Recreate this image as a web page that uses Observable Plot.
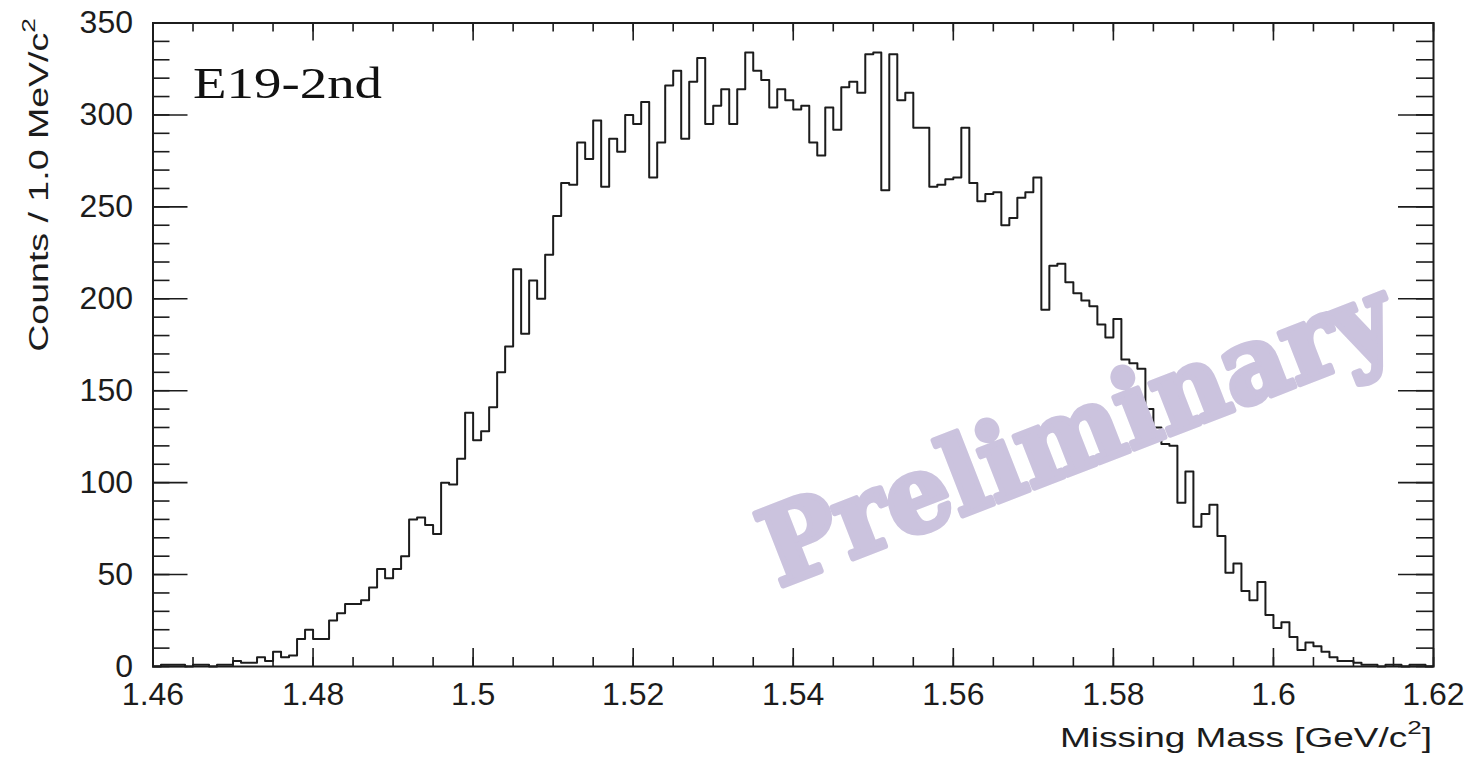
<!DOCTYPE html>
<html>
<head>
<meta charset="utf-8">
<script src="https://cdn.jsdelivr.net/npm/d3@7"></script>
<script src="https://cdn.jsdelivr.net/npm/@observablehq/plot@0.6"></script>
<style>
  html, body { margin: 0; padding: 0; background: #fff; }
  #chart { width: 1471px; height: 762px; }
</style>
</head>
<body>
<div id="chart"></div>
<script>
// Missing-mass spectrum, 1 MeV/c^2 bins from 1.46 to 1.62 GeV/c^2
const massMin = 1.46;
const massMax = 1.62;
const binWidth = 0.001;

// Counts per bin (160 bins)
const counts = [
  0, 1, 1, 1, 0, 1, 1, 0, 1, 1,
  3, 2, 2, 5, 3, 8, 5, 6, 15, 20,
  15, 15, 25, 29, 34, 34, 36, 43, 53, 48,
  53, 60, 80, 81, 77, 72, 100, 99, 113, 138,
  123, 128, 141, 160, 174, 216, 181, 210, 200, 224,
  245, 263, 262, 285, 276, 297, 261, 287, 280, 300,
  295, 307, 266, 285, 316, 324, 287, 318, 331, 295,
  305, 314, 295, 314, 334, 324, 319, 304, 314, 308,
  303, 305, 285, 278, 304, 292, 315, 318, 312, 333,
  334, 259, 333, 308, 312, 293, 293, 261, 262, 265,
  266, 293, 263, 253, 257, 258, 240, 244, 255, 258,
  266, 194, 218, 219, 209, 203, 199, 196, 186, 179,
  189, 167, 165, 162, 140, 130, 121, 120, 89, 106,
  76, 83, 88, 71, 51, 56, 41, 36, 46, 28,
  21, 24, 16, 9, 13, 11, 8, 5, 3, 3,
  2, 1, 1, 0, 1, 1, 0, 1, 1, 0
];

// Axis ticks
const xMajorTicks = [1.46, 1.48, 1.50, 1.52, 1.54, 1.56, 1.58, 1.60, 1.62];
const yMajorTicks = [0, 50, 100, 150, 200, 250, 300, 350];
const yMax = 350;

// Texts
const runLabel = "E19-2nd";
const xTitle = "Missing Mass [GeV/c";
const yTitle = "Counts / 1.0 MeV/c";
const watermark = "Preliminary";

const W = 1471, H = 762;
const margin = {top: 22.5, right: 38, bottom: 96, left: 152.5};
const frameW = W - margin.left - margin.right;
const frameH = H - margin.top - margin.bottom;
const ink = "#1c1c1c";

// minor ticks every 5 MeV on x, every 10 counts on y
const xMinorTicks = d3.range(0, 33).map(i => +(massMin + i * 0.005).toFixed(3));
const yMinorTicks = d3.range(0, yMax + 1, 10);

// histogram outline as a step line over bin edges
const outline = counts.map((c, i) => ({mass: massMin + i * binWidth, count: c}));
outline.push({mass: massMax, count: counts[counts.length - 1]});

const tickStyle = {stroke: ink, strokeWidth: 1.6};

const plot = Plot.plot({
  width: W,
  height: H,
  marginTop: margin.top,
  marginRight: margin.right,
  marginBottom: margin.bottom,
  marginLeft: margin.left,
  x: {domain: [massMin, massMax]},
  y: {domain: [0, yMax]},
  style: {
    fontFamily: "'Liberation Sans', Arial, Helvetica, sans-serif",
    fontSize: "32px",
    color: ink,
    background: "white"
  },
  marks: [
    Plot.line(outline, {x: "mass", y: "count", curve: "step-after", stroke: ink, strokeWidth: 2}),
    // inward ticks on all four sides
    Plot.tickX(xMinorTicks, {x: d => d, insetTop: frameH - 9, ...tickStyle}),
    Plot.tickX(xMinorTicks, {x: d => d, insetBottom: frameH - 9, ...tickStyle}),
    Plot.tickX(xMajorTicks, {x: d => d, insetTop: frameH - 18, ...tickStyle}),
    Plot.tickX(xMajorTicks, {x: d => d, insetBottom: frameH - 18, ...tickStyle}),
    Plot.tickY(yMinorTicks, {y: d => d, insetRight: frameW - 17, ...tickStyle}),
    Plot.tickY(yMinorTicks, {y: d => d, insetLeft: frameW - 17, ...tickStyle}),
    Plot.tickY(yMajorTicks, {y: d => d, insetRight: frameW - 35, ...tickStyle}),
    Plot.tickY(yMajorTicks, {y: d => d, insetLeft: frameW - 35, ...tickStyle}),
    Plot.frame({stroke: ink, strokeWidth: 2}),
    Plot.axisX({ticks: xMajorTicks, tickSize: 0, tickPadding: 16,
      tickFormat: d => String(+d.toFixed(2)), label: null}),
    Plot.axisY({ticks: yMajorTicks, tickSize: 0, tickPadding: 20, label: null})
  ]
});

document.getElementById("chart").appendChild(plot);

const svg = d3.select(plot);

// run label, upper left inside the frame
svg.append("text")
  .attr("transform", "translate(193,98) scale(1.22,1)")
  .attr("text-anchor", "start")
  .attr("font-family", "'Liberation Serif', 'Times New Roman', serif")
  .attr("font-size", 45)
  .attr("fill", "#111")
  .text(runLabel);

// x-axis title, right-aligned under the axis
const xt = svg.append("text")
  .attr("transform", "translate(1432,747) scale(1.37,1)")
  .attr("text-anchor", "end")
  .attr("font-size", 27)
  .attr("fill", ink);
xt.append("tspan").text(xTitle);
xt.append("tspan").attr("font-size", 19).attr("dy", -13).text("2");
xt.append("tspan").attr("dy", 13).text("]");

// y-axis title, rotated, aligned to the top of the axis
const yt = svg.append("text")
  .attr("transform", "translate(48,18) rotate(-90) scale(1.39,1)")
  .attr("text-anchor", "end")
  .attr("font-size", 27)
  .attr("fill", ink);
yt.append("tspan").text(yTitle);
yt.append("tspan").attr("font-size", 19).attr("dy", -13).text("2");

// watermark across the lower right, drawn over the histogram
svg.append("text")
  .attr("transform", "translate(1090,466) rotate(-21.3)")
  .attr("text-anchor", "middle")
  .attr("font-family", "'DejaVu Serif', serif")
  .attr("font-weight", "bold")
  .attr("font-size", 106)
  .attr("textLength", 668)
  .attr("lengthAdjust", "spacingAndGlyphs")
  .attr("fill", "#cbc3de")
  .attr("stroke", "#cbc3de")
  .attr("stroke-width", 6)
  .attr("stroke-linejoin", "round")
  .text(watermark);
</script>
</body>
</html>
